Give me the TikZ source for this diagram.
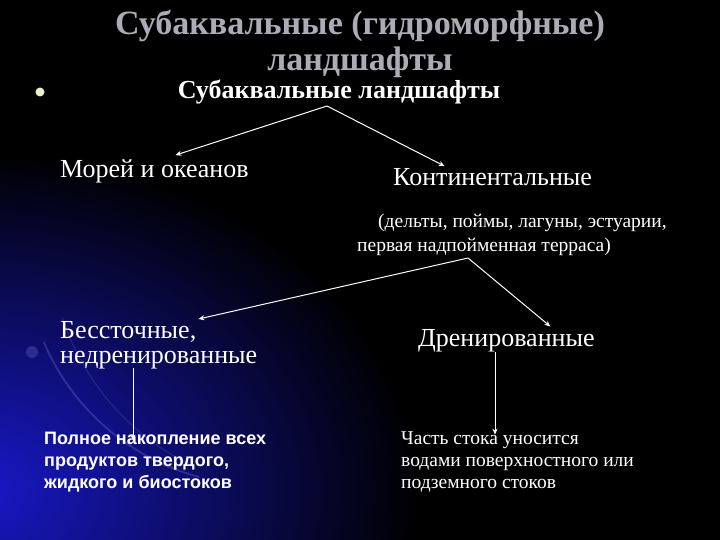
\documentclass[tikz,border=0pt]{standalone}
\usepackage{fontspec}
\setmainfont{Liberation Serif}
\newfontfamily\arialfont{Liberation Sans}
\usetikzlibrary{arrows.meta,calc}
\definecolor{titlegray}{RGB}{172,172,182}
\definecolor{dotyellow}{RGB}{238,238,200}
\definecolor{glowblue}{RGB}{24,24,200}
\newcommand{\fsz}[2]{\fontsize{#1}{#2}\selectfont}

\tikzset{
  titletext/.style={text=titlegray,font=\fsz{34}{36}\bfseries,inner sep=0pt},
  headtext/.style={text=white,font=\fsz{26}{26}\bfseries,inner sep=0pt},
  boxtext/.style={text=white,font=\fsz{26}{25},inner sep=0pt,anchor=west,align=left},
  smalltext/.style={text=white,font=\fsz{19.5}{20},inner sep=0pt,anchor=west,text height=1.5ex,text depth=.3ex},
  sanstext/.style={text=white,font=\arialfont\fsz{18}{18}\bfseries,inner sep=0pt,anchor=west,text height=1.5ex,text depth=.3ex},
  link/.style={white,line width=1pt,-{Stealth[length=6pt,width=5pt]}}
}

\begin{document}
\begin{tikzpicture}[x=1pt,y=-1pt]
\fill[black] (0,0) rectangle (720,540);
\useasboundingbox (0,0) rectangle (720,540);
\begin{scope}
\clip (0,0) rectangle (720,540);
\shade[inner color=glowblue,outer color=black] (-20,490) ellipse (440pt and 340pt);
\draw[glowblue!60!white,opacity=.3,line width=2pt] (260,250) ++(203:235pt) arc[start angle=203,end angle=255,radius=235pt];
\draw[glowblue!60!white,opacity=.2,line width=1.2pt] (300,240) ++(198:250pt) arc[start angle=198,end angle=245,radius=250pt];
\fill[glowblue!50!white,opacity=.25] (32,352) circle (6pt);
\end{scope}

\fill[dotyellow] (40,92) circle (4.5pt);

\node[titletext] (title1) at (360,26) {Субаквальные (гидроморфные)};
\node[titletext] (title2) at (360,62) {ландшафты};

\node[headtext] (sub) at (339,92) {Субаквальные ландшафты};
\node[boxtext] (seas) at (60,171) {Морей и океанов};
\node[boxtext] (cont) at (393,177) {Континентальные};
\node[smalltext] (contA) at (378,225) {(дельты, поймы, лагуны, эстуарии,};
\node[smalltext] (contB) at (357,249) {первая надпойменная терраса)};
\node[boxtext] (closed) at (60,345) {Бессточные,\\недренированные};
\node[boxtext] (drained) at (418,341) {Дренированные};
\node[sanstext] (accA) at (44,442) {Полное накопление всех};
\node[sanstext] (accB) at (44,464) {продуктов твердого,};
\node[sanstext] (accC) at (44,486) {жидкого и биостоков};
\node[smalltext] (runA) at (401,442) {Часть стока уносится};
\node[smalltext] (runB) at (401,464) {водами поверхностного или};
\node[smalltext] (runC) at (401,486) {подземного стоков};

\coordinate (fork1) at (327,106);
\coordinate (fork2) at (468,258);
\coordinate (dropA) at (133,368);
\coordinate (dropB) at (495,352);
\draw[link] (fork1) -- ($(seas.north)+(21,-4)$);
\draw[link] (fork1) -- ($(cont.north)+(-48,-2)$);
\draw[link] (fork2) -- ($(closed.north east)+(-59,-2)$);
\draw[link] (fork2) -- ($(drained.north)+(44,-3)$);
\draw[link] (dropA) -- ($(dropA |- accA.north)+(0,3)$);
\draw[link] (dropB) -- ($(dropB |- runA.north)+(0,-3)$);
\end{tikzpicture}
\end{document}
